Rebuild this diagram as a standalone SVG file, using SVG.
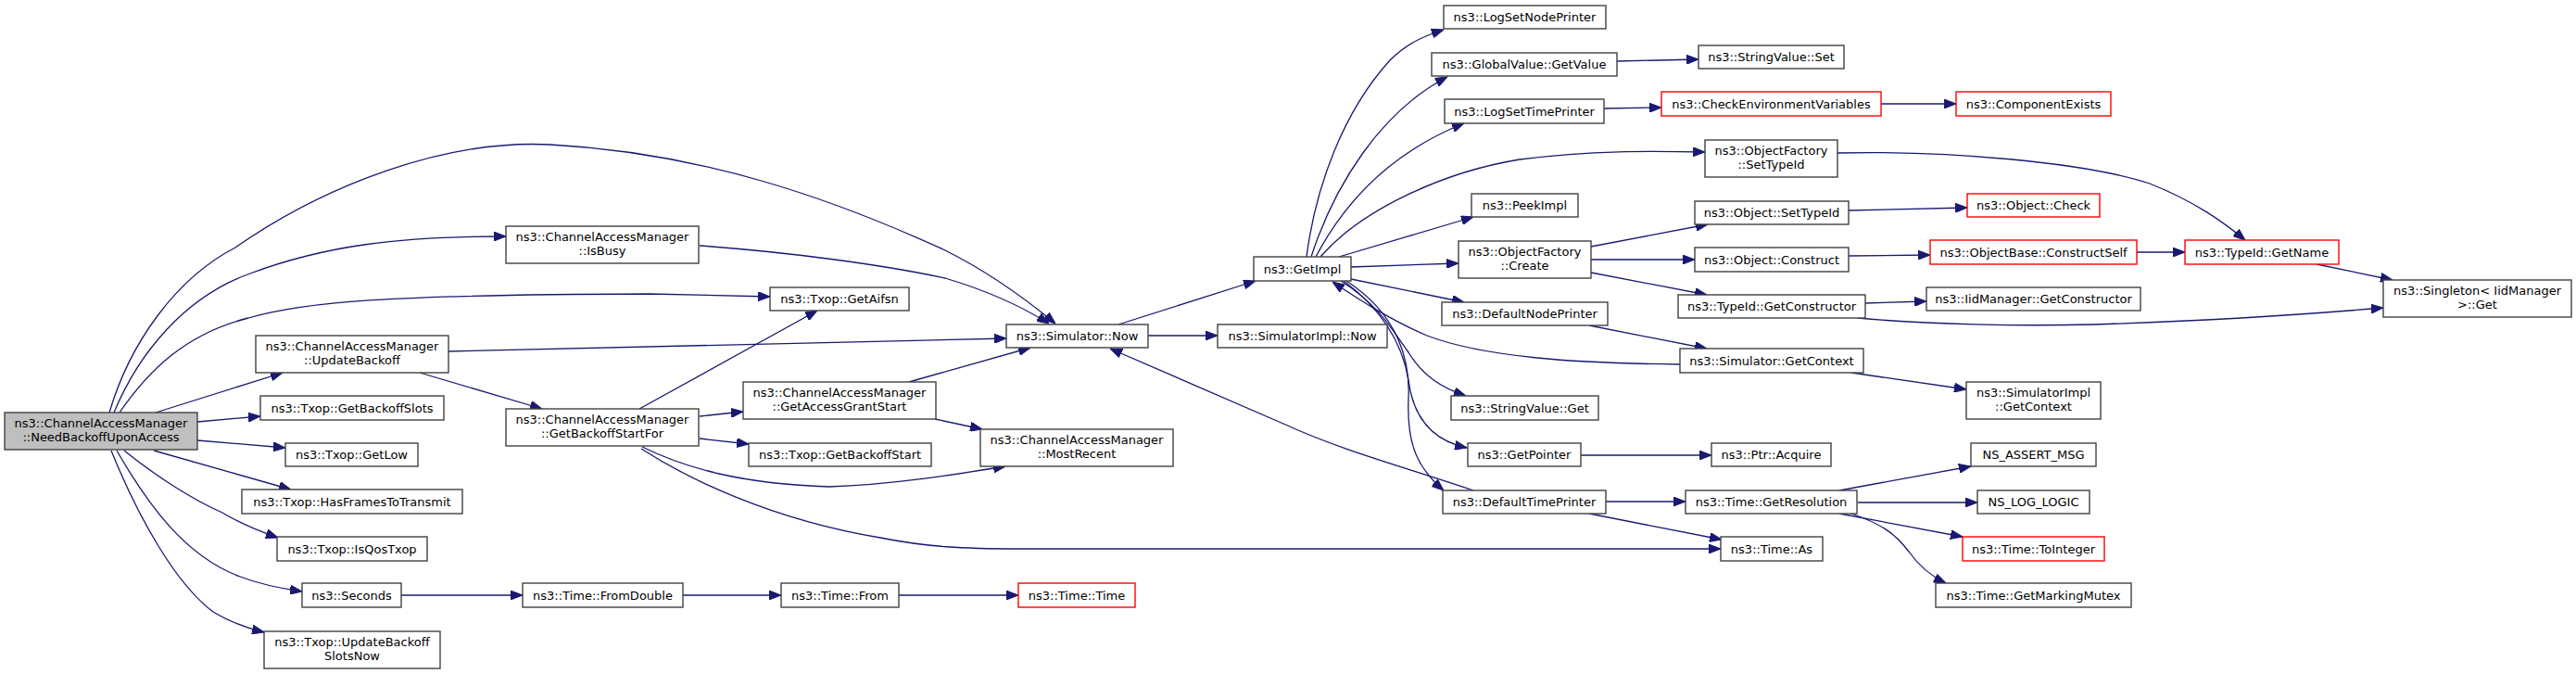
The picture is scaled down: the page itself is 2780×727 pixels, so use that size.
<svg xmlns="http://www.w3.org/2000/svg" width="2780" height="727" viewBox="0 0 2780 727">
<defs>
<style>
.node rect{fill:#ffffff;stroke:#404040;stroke-width:1.4}
.node.root rect{fill:#bfbfbf}
.node.red rect{stroke:#ff0000}
.node text{font-family:"DejaVu Sans","Liberation Sans",sans-serif;font-size:13px;fill:#000;text-anchor:middle}
.edges path{fill:none;stroke:#191970;stroke-width:1.3;marker-end:url(#arr)}
</style>
<marker id="arr" viewBox="0 0 13 10" refX="13" refY="5" markerWidth="13" markerHeight="10" markerUnits="userSpaceOnUse" orient="auto">
<path d="M0,0 L13,5 L0,10 z" fill="#191970" stroke="#191970" stroke-width="1"/>
</marker>
</defs>
<rect x="0" y="0" width="2780" height="727" fill="#ffffff"/>
<g class="edges" id="edges">
<path d="M118,445 C140,370 190,300 254,267 C350,200 480,150 594,156 C760,165 900,215 1020,270 C1070,295 1110,325 1139,349"/>
<path d="M123,445 C150,380 200,320 270,295 C350,265 430,255 546,255"/>
<path d="M129,445 C160,400 200,360 268,343 C330,325 420,318 700,317 L831,320"/>
<path d="M168,445 L305,402"/>
<path d="M213,455 L281,449"/>
<path d="M213,475 L308,483"/>
<path d="M166,486 L314,528"/>
<path d="M134,486 C170,515 210,540 240,553 C260,565 280,573 300,580"/>
<path d="M126,486 C160,545 200,600 259,622 C280,630 305,635 326,638"/>
<path d="M120,486 C150,560 190,630 230,660 C250,672 268,678 285,682"/>
<path d="M484,379 L1086,365"/>
<path d="M453,402 L585,441"/>
<path d="M755,265 C850,272 950,285 1020,300 C1070,315 1105,332 1132,349"/>
<path d="M690,441 L882,335"/>
<path d="M755,449 L802,444"/>
<path d="M755,473 L808,479"/>
<path d="M693,482 C740,505 800,522 895,525 C960,523 1030,512 1085,503"/>
<path d="M692,484 C740,515 830,560 950,580 C1000,590 1040,592 1100,592 L1857,592"/>
<path d="M981,412 L1112,375"/>
<path d="M1009,452 L1060,463"/>
<path d="M433,642 L564,642"/>
<path d="M737,642 L843,642"/>
<path d="M970,642 L1099,642"/>
<path d="M1207,350 L1355,303"/>
<path d="M1239,362 L1314,362"/>
<path d="M1590,529 C1520,505 1450,487 1385,457 L1198,376"/>
<path d="M1410,277 C1420,200 1450,120 1500,65 C1520,45 1540,38 1558,32"/>
<path d="M1415,277 C1440,200 1490,120 1562,83"/>
<path d="M1420,277 C1450,220 1500,165 1580,133"/>
<path d="M1425,277 C1470,225 1560,185 1640,172 C1720,162 1780,163 1840,164"/>
<path d="M1445,277 L1590,234"/>
<path d="M1458,288 L1574,284"/>
<path d="M1458,301 L1580,326"/>
<path d="M1447,303 C1490,330 1505,360 1520,380 C1535,405 1555,418 1582,427"/>
<path d="M1450,303 C1500,340 1515,380 1520,410 C1525,450 1545,475 1583,483"/>
<path d="M1453,303 C1510,340 1522,390 1520,430 C1518,480 1530,505 1558,529"/>
<path d="M1813,393 C1700,392 1600,385 1540,362 C1500,345 1465,322 1438,304"/>
<path d="M1745,66 L1833,64"/>
<path d="M1731,117 L1793,116"/>
<path d="M2030,112 L2111,112"/>
<path d="M1983,165 C2100,162 2250,175 2320,198 C2370,218 2400,240 2423,259"/>
<path d="M1995,227 L2123,224"/>
<path d="M1717,266 L1843,242"/>
<path d="M1717,280 L1829,280"/>
<path d="M1717,294 L1842,318"/>
<path d="M1995,276 L2083,275"/>
<path d="M2306,272 L2358,272"/>
<path d="M2500,285 L2582,302"/>
<path d="M2013,327 L2079,325"/>
<path d="M2005,343 C2080,350 2180,352 2260,350 C2380,346 2480,340 2572,332"/>
<path d="M1715,351 L1842,376"/>
<path d="M1998,402 L2122,420"/>
<path d="M1706,491 L1847,491"/>
<path d="M1733,541 L1819,541"/>
<path d="M1715,554 L1858,582"/>
<path d="M1985,529 L2127,503"/>
<path d="M2005,542 L2134,542"/>
<path d="M1985,554 L2118,579"/>
<path d="M1998,554 C2030,565 2045,575 2060,595 C2072,612 2085,622 2100,629"/>
</g>
<g id="n_need" class="node root"><rect x="5" y="445" width="208" height="40"/><text x="109" y="461">ns3::ChannelAccessManager</text><text x="109" y="476">::NeedBackoffUponAccess</text></g>
<g id="n_isbusy" class="node"><rect x="546" y="244" width="208" height="40"/><text x="650" y="260">ns3::ChannelAccessManager</text><text x="650" y="275">::IsBusy</text></g>
<g id="n_updatebackoff" class="node"><rect x="276" y="362" width="208" height="40"/><text x="380" y="378">ns3::ChannelAccessManager</text><text x="380" y="393">::UpdateBackoff</text></g>
<g id="n_getbackoffslots" class="node"><rect x="281" y="427" width="198" height="26"/><text x="380" y="444.5">ns3::Txop::GetBackoffSlots</text></g>
<g id="n_getlow" class="node"><rect x="308" y="478" width="143" height="25"/><text x="379.5" y="495">ns3::Txop::GetLow</text></g>
<g id="n_hasframes" class="node"><rect x="261" y="528" width="238" height="26"/><text x="380" y="545.5">ns3::Txop::HasFramesToTransmit</text></g>
<g id="n_isqos" class="node"><rect x="299" y="579" width="162" height="26"/><text x="380" y="596.5">ns3::Txop::IsQosTxop</text></g>
<g id="n_seconds" class="node"><rect x="326" y="629" width="107" height="26"/><text x="379.5" y="646.5">ns3::Seconds</text></g>
<g id="n_updslots" class="node"><rect x="285" y="681" width="190" height="40"/><text x="380" y="697">ns3::Txop::UpdateBackoff</text><text x="380" y="712">SlotsNow</text></g>
<g id="n_getbackoffstartfor" class="node"><rect x="546" y="441" width="208" height="40"/><text x="650" y="457">ns3::ChannelAccessManager</text><text x="650" y="472">::GetBackoffStartFor</text></g>
<g id="n_fromdouble" class="node"><rect x="564" y="629" width="173" height="26"/><text x="650.5" y="646.5">ns3::Time::FromDouble</text></g>
<g id="n_getaifsn" class="node"><rect x="831" y="310" width="150" height="25"/><text x="906" y="327">ns3::Txop::GetAifsn</text></g>
<g id="n_grantstart" class="node"><rect x="802" y="412" width="208" height="40"/><text x="906" y="428">ns3::ChannelAccessManager</text><text x="906" y="443">::GetAccessGrantStart</text></g>
<g id="n_getbackoffstart" class="node"><rect x="808" y="478" width="197" height="25"/><text x="906.5" y="495">ns3::Txop::GetBackoffStart</text></g>
<g id="n_from" class="node"><rect x="843" y="629" width="127" height="26"/><text x="906.5" y="646.5">ns3::Time::From</text></g>
<g id="n_simnow" class="node"><rect x="1086" y="350" width="153" height="25"/><text x="1162.5" y="367">ns3::Simulator::Now</text></g>
<g id="n_mostrecent" class="node"><rect x="1058" y="463" width="208" height="40"/><text x="1162" y="479">ns3::ChannelAccessManager</text><text x="1162" y="494">::MostRecent</text></g>
<g id="n_timetime" class="node red"><rect x="1099" y="629" width="126" height="26"/><text x="1162" y="646.5">ns3::Time::Time</text></g>
<g id="n_getimpl" class="node"><rect x="1353" y="277" width="105" height="26"/><text x="1405.5" y="294.5">ns3::GetImpl</text></g>
<g id="n_simimplnow" class="node"><rect x="1314" y="350" width="183" height="25"/><text x="1405.5" y="367">ns3::SimulatorImpl::Now</text></g>
<g id="n_lognodeprinter" class="node"><rect x="1558" y="6" width="175" height="25"/><text x="1645.5" y="23">ns3::LogSetNodePrinter</text></g>
<g id="n_getvalue" class="node"><rect x="1545" y="57" width="200" height="25"/><text x="1645" y="74">ns3::GlobalValue::GetValue</text></g>
<g id="n_logtimeprinter" class="node"><rect x="1559" y="107" width="172" height="26"/><text x="1645" y="124.5">ns3::LogSetTimePrinter</text></g>
<g id="n_peekimpl" class="node"><rect x="1588" y="209" width="115" height="25"/><text x="1645.5" y="226">ns3::PeekImpl</text></g>
<g id="n_ofcreate" class="node"><rect x="1574" y="260" width="143" height="40"/><text x="1645.5" y="276">ns3::ObjectFactory</text><text x="1645.5" y="291">::Create</text></g>
<g id="n_defnodeprinter" class="node"><rect x="1556" y="326" width="179" height="25"/><text x="1645.5" y="343">ns3::DefaultNodePrinter</text></g>
<g id="n_strget" class="node"><rect x="1566" y="427" width="159" height="26"/><text x="1645.5" y="444.5">ns3::StringValue::Get</text></g>
<g id="n_getpointer" class="node"><rect x="1584" y="478" width="122" height="25"/><text x="1645" y="495">ns3::GetPointer</text></g>
<g id="n_deftimeprinter" class="node"><rect x="1557" y="529" width="176" height="25"/><text x="1645" y="546">ns3::DefaultTimePrinter</text></g>
<g id="n_strset" class="node"><rect x="1833" y="49" width="157" height="25"/><text x="1911.5" y="66">ns3::StringValue::Set</text></g>
<g id="n_checkenv" class="node red"><rect x="1793" y="99" width="237" height="26"/><text x="1911.5" y="116.5">ns3::CheckEnvironmentVariables</text></g>
<g id="n_ofsettypeid" class="node"><rect x="1840" y="151" width="143" height="40"/><text x="1911.5" y="167">ns3::ObjectFactory</text><text x="1911.5" y="182">::SetTypeId</text></g>
<g id="n_objsettypeid" class="node"><rect x="1829" y="217" width="166" height="25"/><text x="1912" y="234">ns3::Object::SetTypeId</text></g>
<g id="n_objconstruct" class="node"><rect x="1829" y="267" width="166" height="26"/><text x="1912" y="284.5">ns3::Object::Construct</text></g>
<g id="n_tidgetctor" class="node"><rect x="1811" y="318" width="202" height="25"/><text x="1912" y="335">ns3::TypeId::GetConstructor</text></g>
<g id="n_simgetctx" class="node"><rect x="1813" y="376" width="198" height="26"/><text x="1912" y="393.5">ns3::Simulator::GetContext</text></g>
<g id="n_ptracquire" class="node"><rect x="1847" y="478" width="129" height="25"/><text x="1911.5" y="495">ns3::Ptr::Acquire</text></g>
<g id="n_getres" class="node"><rect x="1819" y="529" width="185" height="25"/><text x="1911.5" y="546">ns3::Time::GetResolution</text></g>
<g id="n_timeas" class="node"><rect x="1857" y="579" width="110" height="26"/><text x="1912" y="596.5">ns3::Time::As</text></g>
<g id="n_compexists" class="node red"><rect x="2111" y="99" width="167" height="26"/><text x="2194.5" y="116.5">ns3::ComponentExists</text></g>
<g id="n_objcheck" class="node red"><rect x="2123" y="209" width="143" height="25"/><text x="2194.5" y="226">ns3::Object::Check</text></g>
<g id="n_constructself" class="node red"><rect x="2083" y="259" width="223" height="26"/><text x="2194.5" y="276.5">ns3::ObjectBase::ConstructSelf</text></g>
<g id="n_iidgetctor" class="node"><rect x="2079" y="310" width="231" height="25"/><text x="2194.5" y="327">ns3::IidManager::GetConstructor</text></g>
<g id="n_simimplgetctx" class="node"><rect x="2122" y="412" width="145" height="40"/><text x="2194.5" y="428">ns3::SimulatorImpl</text><text x="2194.5" y="443">::GetContext</text></g>
<g id="n_assert" class="node"><rect x="2127" y="478" width="135" height="25"/><text x="2194.5" y="495">NS_ASSERT_MSG</text></g>
<g id="n_loglogic" class="node"><rect x="2134" y="529" width="121" height="25"/><text x="2194.5" y="546">NS_LOG_LOGIC</text></g>
<g id="n_tointeger" class="node red"><rect x="2118" y="579" width="153" height="26"/><text x="2194.5" y="596.5">ns3::Time::ToInteger</text></g>
<g id="n_mutex" class="node"><rect x="2089" y="629" width="211" height="26"/><text x="2194.5" y="646.5">ns3::Time::GetMarkingMutex</text></g>
<g id="n_getname" class="node red"><rect x="2358" y="259" width="166" height="26"/><text x="2441" y="276.5">ns3::TypeId::GetName</text></g>
<g id="n_singleton" class="node"><rect x="2572" y="302" width="203" height="40"/><text x="2673.5" y="318">ns3::Singleton&lt; IidManager</text><text x="2673.5" y="333">&gt;::Get</text></g>
</svg>
